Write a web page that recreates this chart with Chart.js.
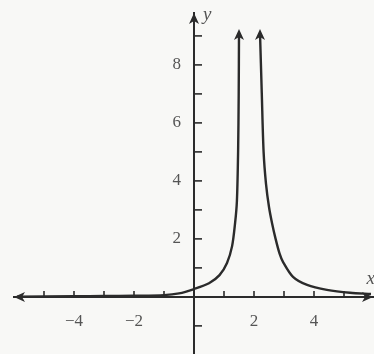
<!DOCTYPE html>
<html>
<head>
<meta charset="utf-8">
<script src="https://cdn.jsdelivr.net/npm/chart.js@4.4.1/dist/chart.umd.min.js"></script>
<style>
  html, body { margin: 0; padding: 0; background: #f8f8f6; }
  #wrap { width: 374px; height: 354px; position: relative; }
</style>
</head>
<body>
<div id="wrap"><canvas id="graph"></canvas></div>
<script>
// curve, two branches on each side of the asymptote
const leftX  = [-5.9, -4, -3, -2, -1, -0.5, 0, 0.5, 0.85, 1.1, 1.27, 1.37, 1.43, 1.47, 1.49, 1.5];
const leftY  = [0.01, 0.02, 0.03, 0.04, 0.06, 0.12, 0.27, 0.47, 0.75, 1.17, 1.75, 2.55, 3.3, 5.0, 7.0, 9.1];
const rightX = [2.2, 2.26, 2.32, 2.4, 2.5, 2.6, 2.72, 2.85, 2.97, 3.3, 3.77, 4.43, 5.2, 5.9];
const rightY = [9.1, 7.0, 5.0, 3.9, 3.1, 2.55, 2.0, 1.5, 1.2, 0.69, 0.41, 0.24, 0.14, 0.1];

// ticks
const xTickLabels = [-4, -2, 2, 4];
const yTickLabels = [2, 4, 6, 8];
const xTickMarks = [-5, -4, -3, -2, -1, 1, 2, 3, 4, 5];
const yTickMarks = [-1, 1, 2, 3, 4, 5, 6, 7, 8, 9];

const ink = '#2b2b2b';
const labelInk = '#555';

const toPoints = (xs, ys) => xs.map((x, i) => ({ x: x, y: ys[i] }));

// keep the centred axes from eating space around the plot
const noRoom = (s) => {
    if (s.isHorizontal()) s.height = 0; else s.width = 0;
    s.paddingTop = s.paddingBottom = s.paddingLeft = s.paddingRight = 0;
};

// tick marks, arrow heads and the axis letters
const axesDecor = {
    id: 'axesDecor',
    afterDatasetsDraw(chart) {
        const ctx = chart.ctx;
        const sx = chart.scales.x, sy = chart.scales.y;
        const x0 = sx.getPixelForValue(0), y0 = sy.getPixelForValue(0);
        ctx.save();
        ctx.strokeStyle = ink;
        ctx.fillStyle = ink;
        ctx.lineWidth = 1.6;

        xTickMarks.forEach(v => {
            const px = sx.getPixelForValue(v);
            ctx.beginPath();
            ctx.moveTo(px, y0 + 1);
            ctx.lineTo(px, y0 - 6);
            ctx.stroke();
        });
        yTickMarks.forEach(v => {
            const py = sy.getPixelForValue(v);
            ctx.beginPath();
            ctx.moveTo(x0 - 1, py);
            ctx.lineTo(x0 + 8, py);
            ctx.stroke();
        });

        const arrow = (x, y, dir) => {
            const l = 11, w = 5;
            ctx.beginPath();
            if (dir === 'up') {
                ctx.moveTo(x, y);
                ctx.lineTo(x - w, y + l);
                ctx.lineTo(x, y + l - 3);
                ctx.lineTo(x + w, y + l);
            } else if (dir === 'left') {
                ctx.moveTo(x, y);
                ctx.lineTo(x + l, y - w);
                ctx.lineTo(x + l - 3, y);
                ctx.lineTo(x + l, y + w);
            } else {
                ctx.moveTo(x, y);
                ctx.lineTo(x - l, y - w);
                ctx.lineTo(x - l + 3, y);
                ctx.lineTo(x - l, y + w);
            }
            ctx.closePath();
            ctx.fill();
        };

        arrow(chart.chartArea.left, y0, 'left');
        arrow(chart.chartArea.right - 1, y0, 'right');
        arrow(x0, chart.chartArea.top, 'up');

        chart.data.datasets.forEach((ds, i) => {
            const pts = chart.getDatasetMeta(i).data;
            const top = ds.data[0].y > ds.data[ds.data.length - 1].y ? pts[0] : pts[pts.length - 1];
            arrow(top.x, top.y - 4, 'up');
        });

        ctx.font = 'italic 19px "Liberation Serif"';
        ctx.fillStyle = labelInk;
        ctx.textBaseline = 'middle';
        ctx.textAlign = 'left';
        ctx.fillText('y', x0 + 9, chart.chartArea.top + 2);
        ctx.fillText('x', sx.getPixelForValue(5.75), y0 - 18);
        ctx.restore();
    }
};

new Chart(document.getElementById('graph'), {
    type: 'scatter',
    data: {
        datasets: [{
            data: toPoints(leftX, leftY),
            showLine: true,
            borderColor: ink,
            borderWidth: 2.4,
            pointRadius: 0,
            tension: 0.3,
            clip: false
        }, {
            data: toPoints(rightX, rightY),
            showLine: true,
            borderColor: ink,
            borderWidth: 2.4,
            pointRadius: 0,
            tension: 0.3,
            clip: false
        }]
    },
    options: {
        responsive: true,
        maintainAspectRatio: false,
        animation: false,
        layout: { padding: { left: 14, top: 13, right: 0, bottom: 0 } },
        plugins: {
            legend: { display: false },
            tooltip: { enabled: false }
        },
        scales: {
            x: {
                type: 'linear',
                position: { y: 0 },
                min: -6,
                max: 6,
                afterFit: noRoom,
                grid: { drawOnChartArea: false, drawTicks: false },
                border: { color: ink, width: 2 },
                ticks: {
                    stepSize: 1,
                    padding: 14,
                    color: labelInk,
                    font: { family: '"Liberation Serif"', size: 17 },
                    callback: v => xTickLabels.includes(v) ? String(v).replace('-', '\u2212') : ''
                }
            },
            y: {
                type: 'linear',
                // x runs -6..6, so the centre of the plot is x = 0
                position: 'center',
                min: -1.97,
                max: 9.79,
                afterFit: noRoom,
                // invisible tick marks only push the labels off the axis
                grid: { drawOnChartArea: false, drawTicks: true, tickLength: 13, color: 'transparent' },
                border: { color: ink, width: 2 },
                ticks: {
                    stepSize: 1,
                    padding: 0,
                    color: labelInk,
                    font: { family: '"Liberation Serif"', size: 17 },
                    callback: v => yTickLabels.includes(v) ? String(v) : ''
                }
            }
        }
    },
    plugins: [axesDecor]
});
</script>
</body>
</html>
